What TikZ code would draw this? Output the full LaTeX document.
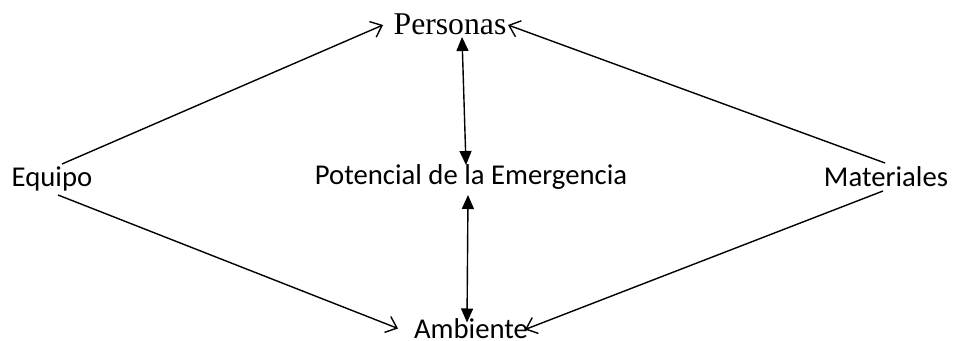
\documentclass[tikz,border=0pt]{standalone}
\usepackage{fontspec}
\setmainfont{Carlito}
\newfontfamily\timesfont{Liberation Serif}
\usetikzlibrary{arrows.meta}

\begin{document}
\begin{tikzpicture}[x=1pt,y=1pt,line width=1.4pt]
    \tikzstyle{factor}=[inner sep=0pt,anchor=base,font=\fontsize{28.7}{31}\selectfont]
    \tikzstyle{person}=[factor,font=\timesfont\fontsize{31.7}{34}\selectfont]
    \tikzstyle{open arrow}=[-{Straight Barb[length=10pt,width=17pt,line width=1.4pt]}]
    \tikzstyle{both arrow}=[{Triangle[length=14pt,width=12pt]}-{Triangle[length=14pt,width=12pt]}]

    \useasboundingbox (0,0) rectangle (957,340);

    % Draw the nodes
    \node[person] (P) at (450,305) {Personas};
    \node[factor] (E) at (52,153) {Equipo};
    \node[factor] (M) at (886,153) {Materiales};
    \node[factor] (C) at (471,155) {Potencial de la Emergencia};
    \node[factor] (A) at (471,1.5) {Ambiente};

    % Arrows to Personas and Ambiente
    \draw[open arrow] ([shift={(10,23)}]E.base) -- ([shift={(-67,10)}]P.base);
    \draw[open arrow] ([shift={(6,-8)}]E.base) -- ([shift={(-73,10)}]A.base);
    \draw[open arrow] ([shift={(-1,24)}]M.base) -- ([shift={(58,10)}]P.base);
    \draw[open arrow] ([shift={(-3,-4)}]M.base) -- ([shift={(54,9)}]A.base);
    % Double arrows through the centre
    \draw[both arrow] ([shift={(12,-2)}]P.base) -- ([shift={(-5,20)}]C.base);
    \draw[both arrow] ([shift={(-3,-10)}]C.base) -- ([shift={(-4,16)}]A.base);
\end{tikzpicture}
\end{document}
